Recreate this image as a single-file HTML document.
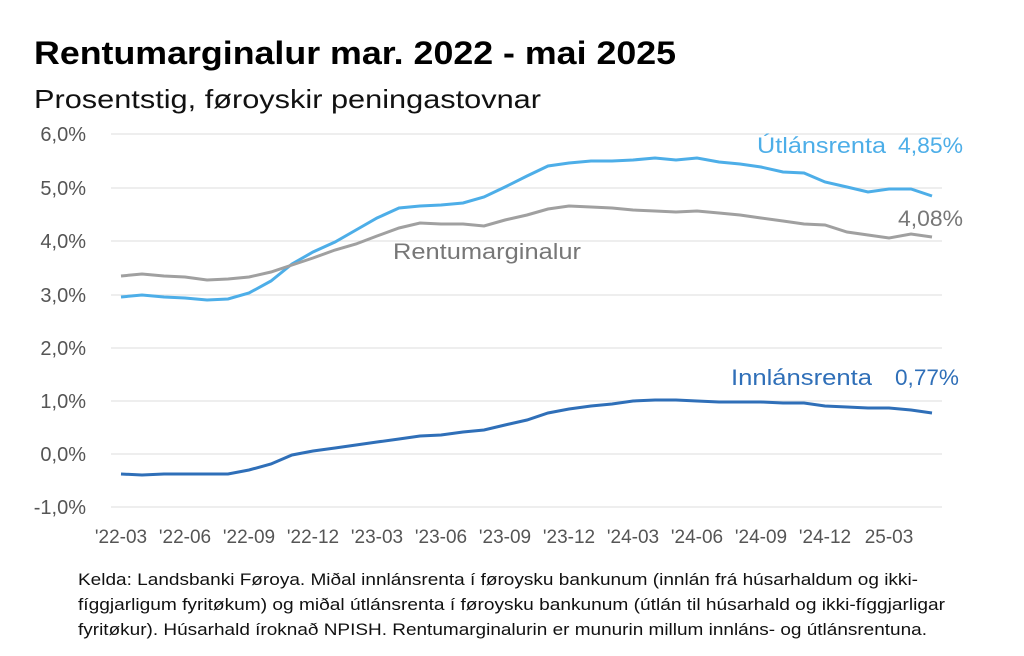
<!DOCTYPE html><html><head><meta charset="utf-8"><style>
body{margin:0;background:#fff;width:1024px;height:651px;overflow:hidden;font-family:"Liberation Sans",sans-serif}
</style></head><body>
<svg width="1024" height="651" xmlns="http://www.w3.org/2000/svg" font-family="Liberation Sans, sans-serif">
<text x="34" y="64" font-size="32" font-weight="bold" fill="#000" textLength="642" lengthAdjust="spacingAndGlyphs">Rentumarginalur mar. 2022 - mai 2025</text>
<text x="34" y="108" font-size="26" fill="#111" textLength="507" lengthAdjust="spacingAndGlyphs">Prosentstig, føroyskir peningastovnar</text>
<g stroke="#e3e3e3" stroke-width="1.2">
<line x1="111" x2="942" y1="134" y2="134"/><line x1="111" x2="942" y1="188" y2="188"/><line x1="111" x2="942" y1="241" y2="241"/><line x1="111" x2="942" y1="295" y2="295"/><line x1="111" x2="942" y1="348" y2="348"/><line x1="111" x2="942" y1="401" y2="401"/><line x1="111" x2="942" y1="454" y2="454"/><line x1="111" x2="942" y1="507" y2="507"/>
</g>
<g font-size="20" fill="#555" text-anchor="end">
<text x="86" y="141">6,0%</text><text x="86" y="195">5,0%</text><text x="86" y="248">4,0%</text><text x="86" y="302">3,0%</text><text x="86" y="355">2,0%</text><text x="86" y="408">1,0%</text><text x="86" y="461">0,0%</text><text x="86" y="514">-1,0%</text>
</g>
<g font-size="19" fill="#555" text-anchor="middle">
<text x="121" y="543">'22-03</text><text x="185" y="543">'22-06</text><text x="249" y="543">'22-09</text><text x="313" y="543">'22-12</text><text x="377" y="543">'23-03</text><text x="441" y="543">'23-06</text><text x="505" y="543">'23-09</text><text x="569" y="543">'23-12</text><text x="633" y="543">'24-03</text><text x="697" y="543">'24-06</text><text x="761" y="543">'24-09</text><text x="825" y="543">'24-12</text><text x="889" y="543">25-03</text>
</g>
<polyline fill="none" stroke="#4daee8" stroke-width="3" points="121,297 142,295 164,297 185,298 207,300 228,299 249,293 271,281 292,264 313,252 335,242 356,230 377,218 399,208 420,206 441,205 463,203 484,197 505,187 527,176 548,166 569,163 591,161 612,161 633,160 655,158 676,160 697,158 719,162 740,164 761,167 783,172 804,173 825,182 847,187 868,192 889,189 911,189 932,196"/>
<polyline fill="none" stroke="#a0a0a0" stroke-width="3" points="121,276 142,274 164,276 185,277 207,280 228,279 249,277 271,272 292,265 313,258 335,250 356,244 377,236 399,228 420,223 441,224 463,224 484,226 505,220 527,215 548,209 569,206 591,207 612,208 633,210 655,211 676,212 697,211 719,213 740,215 761,218 783,221 804,224 825,225 847,232 868,235 889,238 911,234 932,237"/>
<polyline fill="none" stroke="#2f6fb8" stroke-width="3" points="121,474 142,475 164,474 185,474 207,474 228,474 249,470 271,464 292,455 313,451 335,448 356,445 377,442 399,439 420,436 441,435 463,432 484,430 505,425 527,420 548,413 569,409 591,406 612,404 633,401 655,400 676,400 697,401 719,402 740,402 761,402 783,403 804,403 825,406 847,407 868,408 889,408 911,410 932,413"/>
<text x="757" y="153" font-size="22" fill="#4daee8" textLength="129" lengthAdjust="spacingAndGlyphs">Útlánsrenta</text>
<text x="898" y="153" font-size="22" fill="#4daee8" textLength="65" lengthAdjust="spacingAndGlyphs">4,85%</text>
<text x="898" y="226" font-size="22" fill="#777" textLength="65" lengthAdjust="spacingAndGlyphs">4,08%</text>
<text x="393" y="259" font-size="22" fill="#777" textLength="188" lengthAdjust="spacingAndGlyphs">Rentumarginalur</text>
<text x="731" y="385" font-size="22" fill="#2f6fb8" textLength="141" lengthAdjust="spacingAndGlyphs">Innlánsrenta</text>
<text x="895" y="385" font-size="22" fill="#2f6fb8" textLength="64" lengthAdjust="spacingAndGlyphs">0,77%</text>
<g font-size="17" fill="#111">
<text x="78" y="585" textLength="840" lengthAdjust="spacingAndGlyphs">Kelda: Landsbanki Føroya. Miðal innlánsrenta í føroysku bankunum (innlán frá húsarhaldum og ikki-</text>
<text x="78" y="610" textLength="867" lengthAdjust="spacingAndGlyphs">fíggjarligum fyritøkum) og miðal útlánsrenta í føroysku bankunum (útlán til húsarhald og ikki-fíggjarligar</text>
<text x="78" y="635" textLength="849" lengthAdjust="spacingAndGlyphs">fyritøkur). Húsarhald íroknað NPISH. Rentumarginalurin er munurin millum innláns- og útlánsrentuna.</text>
</g>
</svg>
</body></html>
